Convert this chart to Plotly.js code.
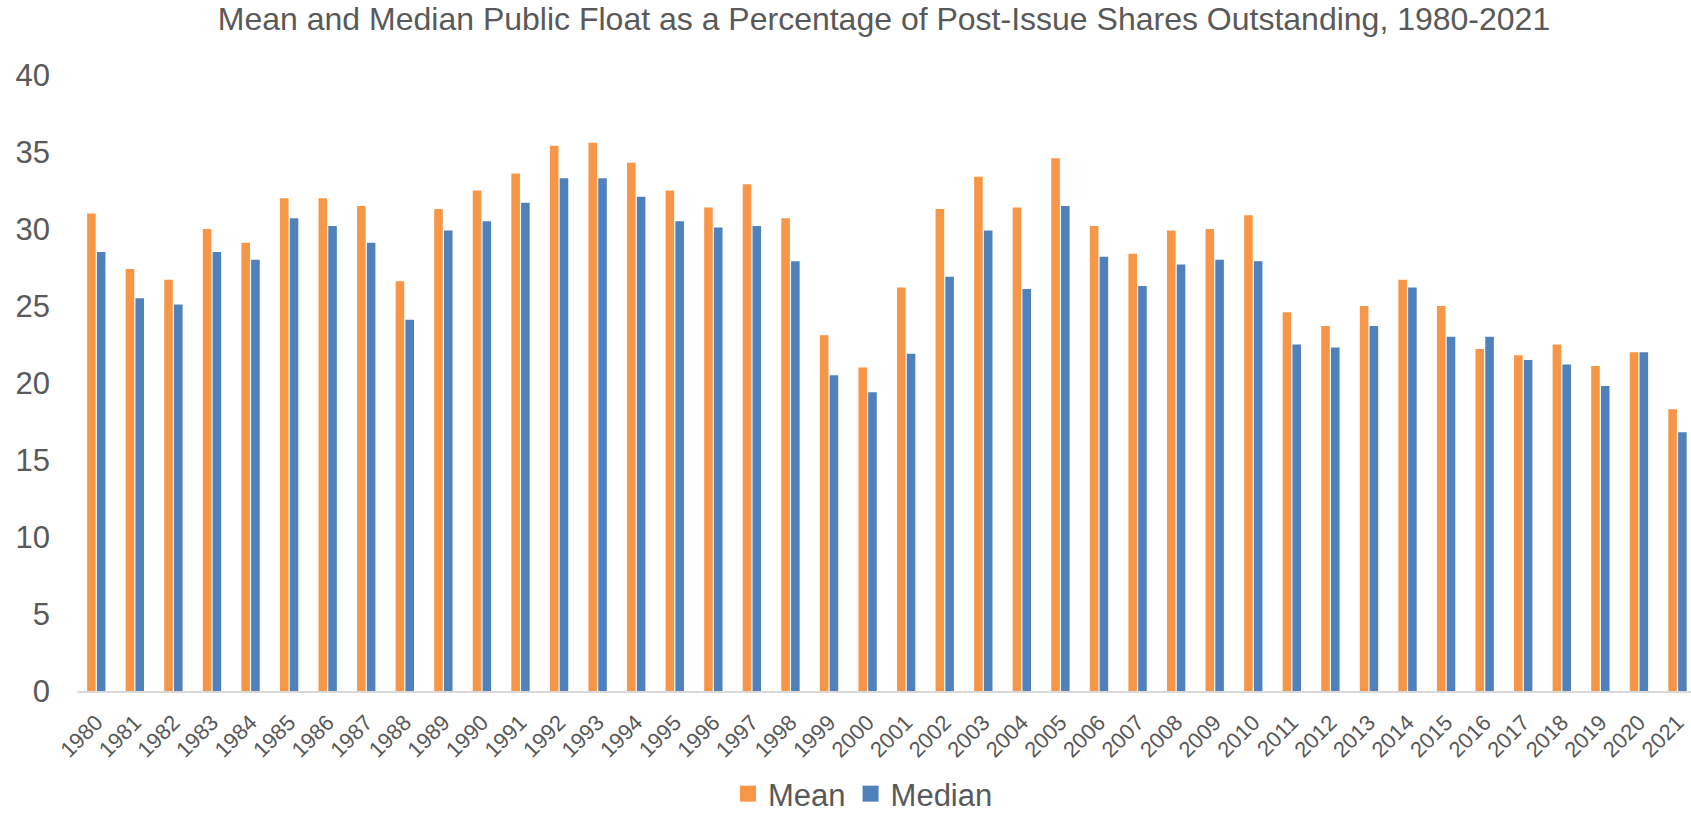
<!DOCTYPE html>
<html>
<head>
<meta charset="utf-8">
<script src="https://cdn.plot.ly/plotly-3.0.1.min.js"></script>
<style>html,body{margin:0;padding:0;background:#fff;}#chart{width:1691px;height:821px;}</style>
</head>
<body>
<div id="chart"></div>
<script>
const years = ["1980","1981","1982","1983","1984","1985","1986","1987","1988","1989","1990","1991","1992","1993","1994","1995","1996","1997","1998","1999","2000","2001","2002","2003","2004","2005","2006","2007","2008","2009","2010","2011","2012","2013","2014","2015","2016","2017","2018","2019","2020","2021"];
const meanValues = [31.0,27.4,26.7,30.0,29.1,32.0,32.0,31.5,26.6,31.3,32.5,33.6,35.4,35.6,34.3,32.5,31.4,32.9,30.7,23.1,21.0,26.2,31.3,33.4,31.4,34.6,30.2,28.4,29.9,30.0,30.9,24.6,23.7,25.0,26.7,25.0,22.2,21.8,22.5,21.1,22.0,18.3];
const medianValues = [28.5,25.5,25.1,28.5,28.0,30.7,30.2,29.1,24.1,29.9,30.5,31.7,33.3,33.3,32.1,30.5,30.1,30.2,27.9,20.5,19.4,21.9,26.9,29.9,26.1,31.5,28.2,26.3,27.7,28.0,27.9,22.5,22.3,23.7,26.2,23.0,23.0,21.5,21.2,19.8,22.0,16.8];
const yTicks = [0,5,10,15,20,25,30,35,40];

const font = "Liberation Sans, Arial, sans-serif";
const grey = "#595959";
const orange = "#F79646";
const blue = "#4F81BD";

const data = [
  {type:"bar", name:"Mean", x:years, y:meanValues, marker:{color:orange}, showlegend:false},
  {type:"bar", name:"Median", x:years, y:medianValues, marker:{color:blue}, showlegend:false},
  {type:"scatter", mode:"markers", name:"Mean", x:[null], y:[null], marker:{symbol:"square", size:16, color:orange}, showlegend:true, hoverinfo:"skip"},
  {type:"scatter", mode:"markers", name:"Median", x:[null], y:[null], marker:{symbol:"square", size:16, color:blue}, showlegend:true, hoverinfo:"skip"}
];

const layout = {
  width:1691, height:821,
  paper_bgcolor:"#ffffff", plot_bgcolor:"#ffffff",
  margin:{l:77, r:0, t:75, b:130, pad:0},
  barmode:"group", bargap:0.494, bargroupgap:0.12,
  title:{text:"Mean and Median Public Float as a Percentage of Post-Issue Shares Outstanding, 1980-2021",
         font:{family:font, size:32, color:grey}, x:0.5, xref:"paper", xanchor:"center", y:0.977, yref:"container", yanchor:"middle"},
  xaxis:{type:"category", range:[-0.5,41.35], tickangle:-45, tickfont:{family:font, size:22, color:grey},
         showgrid:false, zeroline:false, showline:true, linecolor:"#d9d9d9", linewidth:2, ticks:"", ticklabelstandoff:8, fixedrange:true, automargin:false},
  yaxis:{range:[0,40], tickvals:yTicks, ticktext:yTicks.map(String), tickfont:{family:font, size:31, color:grey},
         showgrid:false, zeroline:false, showline:false, ticks:"", ticklabelstandoff:26, fixedrange:true, automargin:false},
  legend:{orientation:"h", x:0.487, xanchor:"center", xref:"paper", y:0, yref:"container", yanchor:"bottom",
          font:{family:font, size:31, color:grey}, itemwidth:30, traceorder:"normal", tracegroupgap:0, borderwidth:0},
  showlegend:true
};

Plotly.newPlot("chart", data, layout, {displayModeBar:false, staticPlot:true});
</script>
</body>
</html>
